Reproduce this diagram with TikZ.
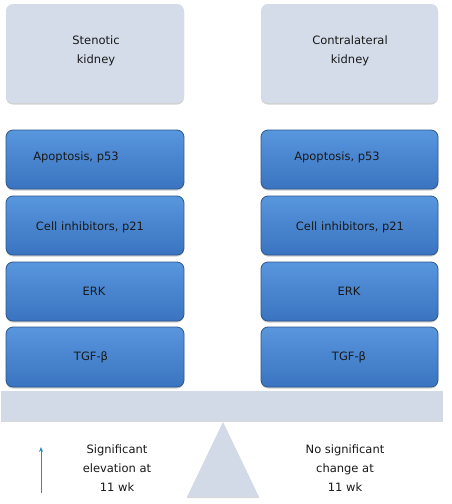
\documentclass[tikz,border=0pt]{standalone}
\usepackage{fontspec}
\setmainfont{DejaVu Sans}
\usetikzlibrary{shadows,arrows.meta}
\definecolor{topbox}{HTML}{D4DBE9}
\definecolor{beamc}{HTML}{D2D9E7}
\definecolor{blueA}{HTML}{5896DE}
\definecolor{blueB}{HTML}{3A74C0}
\definecolor{blueE}{HTML}{2C5790}
\definecolor{arrowc}{HTML}{1E8FD0}
\tikzset{
  topkid/.style={fill=topbox, rounded corners=7pt, draw=none,
    drop shadow={shadow xshift=0pt, shadow yshift=-1.5pt, opacity=0.35}},
  bluebox/.style={top color=blueA, bottom color=blueB, draw=blueE, line width=0.8pt,
    rounded corners=7pt,
    drop shadow={shadow xshift=0pt, shadow yshift=-1.5pt, opacity=0.4}},
  lbl/.style={font=\fontsize{11.5}{19}\selectfont, text=black!90, align=center, inner sep=0pt},
}
\begin{document}
\begin{tikzpicture}[x=1pt,y=-1pt]
\useasboundingbox (0,0) rectangle (451,504);
\fill[white] (0,0) rectangle (451,504);
% top boxes
\path[topkid] (6,4) rectangle (184,103);
\path[topkid] (261,4) rectangle (438,103);
\node[lbl] (sk) at (96,51) {Stenotic\\kidney};
\node[lbl] (ck) at (350,51) {Contralateral\\kidney};
% blue boxes left
\path[bluebox] (6,130) rectangle (184,189);
\path[bluebox] (6,196) rectangle (184,255);
\path[bluebox] (6,262) rectangle (184,321);
\path[bluebox] (6,327) rectangle (184,387);
% blue boxes right
\path[bluebox] (261,130) rectangle (438,189);
\path[bluebox] (261,196) rectangle (438,255);
\path[bluebox] (261,262) rectangle (438,321);
\path[bluebox] (261,327) rectangle (438,387);
\node[lbl] (l1) at (76,157) {Apoptosis, p53};
\node[lbl] (l2) at (90,227) {Cell inhibitors, p21};
\node[lbl] (l3) at (94,291) {ERK};
\node[lbl] (l4) at (91,357) {TGF-β};
\node[lbl] (r1) at (337,157) {Apoptosis, p53};
\node[lbl] (r2) at (350,227) {Cell inhibitors, p21};
\node[lbl] (r3) at (349,291) {ERK};
\node[lbl] (r4) at (349,357) {TGF-β};
% beam
\fill[beamc, drop shadow={shadow xshift=0pt, shadow yshift=-1pt, opacity=0.3}] (1,391) rectangle (443,421);
% fulcrum
\fill[beamc, drop shadow={shadow xshift=0pt, shadow yshift=-1pt, opacity=0.3}] (223,422) -- (259,497) -- (187,497) -- cycle;
% texts
\node[lbl] (sig) at (117,468) {Significant\\elevation at\\11 wk};
\node[lbl] (nos) at (345,468) {No significant\\change at\\11 wk};
\coordinate (a0) at (41,493);
\coordinate (a1) at (41,447);
\draw[arrowc, line width=0.9pt, -{Stealth[length=5pt,width=4pt]}] (a0) -- (a1);
\end{tikzpicture}
\end{document}
